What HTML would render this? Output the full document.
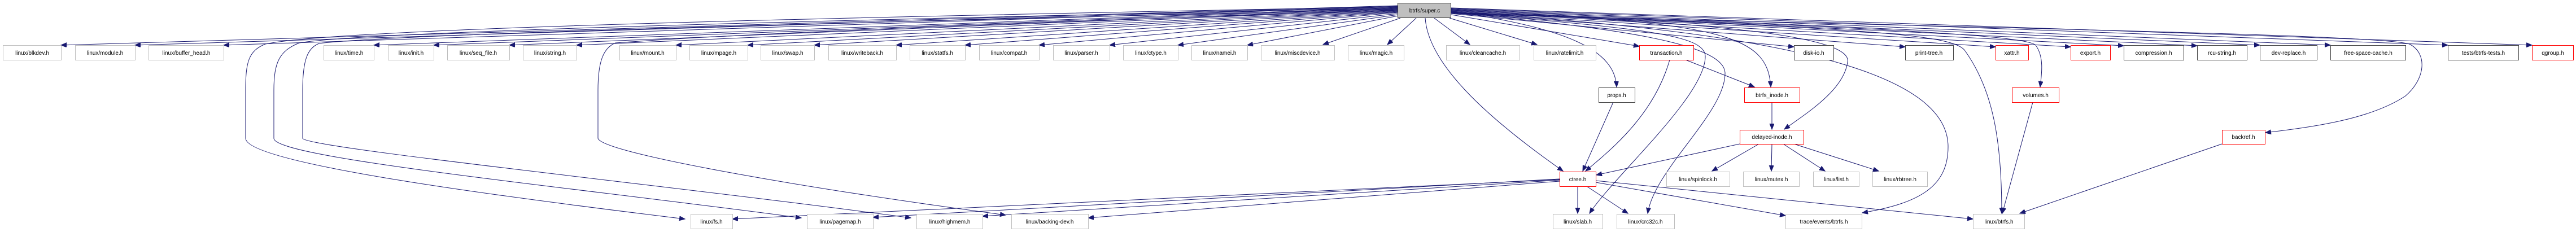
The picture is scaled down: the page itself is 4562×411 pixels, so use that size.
<!DOCTYPE html>
<html><head><meta charset="utf-8"><style>
html,body{margin:0;padding:0;background:#fff;}
svg{display:block;}
text{font-family:"Liberation Sans",Arial,sans-serif;font-size:10px;fill:#000;text-anchor:middle;}
.e{fill:none;stroke:#191970;stroke-width:1;marker-end:url(#ah);}
.g{fill:#fff;stroke:#bfbfbf;stroke-width:1;}
.b{fill:#fff;stroke:#404040;stroke-width:1;}
.r{fill:#fff;stroke:#ff0000;stroke-width:1;}
</style></head><body>
<svg width="4562" height="411" viewBox="0 0 4562 411" xmlns="http://www.w3.org/2000/svg">
<defs><marker id="ah" markerUnits="userSpaceOnUse" markerWidth="12" markerHeight="10" refX="10" refY="4" orient="auto"><path d="M0,0 L10,4 L0,8 z" fill="#191970" stroke="#191970"/></marker></defs>

<!-- edges super.c -> left row -->
<path class="e" d="M2476,10 L108,80"/>
<path class="e" d="M2476,11 L239,80"/>
<path class="e" d="M2476,12 L396,80"/>
<path class="e" d="M2476,13 L662,80"/>
<path class="e" d="M2476,14 L768,80"/>
<path class="e" d="M2476,15 L902,80"/>
<path class="e" d="M2476,16 L1021,80"/>
<path class="e" d="M2476,17 L1197,80"/>
<path class="e" d="M2476,18 L1324,80"/>
<path class="e" d="M2476,19 L1442,80"/>
<path class="e" d="M2476,20 L1587,80"/>
<path class="e" d="M2476,21 L1709,80"/>
<path class="e" d="M2476,22 L1840,80"/>
<path class="e" d="M2476,24 L1965,80"/>
<path class="e" d="M2476,26 L2086,80"/>
<path class="e" d="M2476,28 L2209,80"/>
<path class="e" d="M2480,32 L2343,79"/>
<path class="e" d="M2508,32 L2457,79"/>
<path class="e" d="M2540,32 L2603,79"/>
<path class="e" d="M2567,32 L2722,79"/>
<!-- super -> right row -->
<path class="e" d="M2570,26 L2903,82"/>
<path class="e" d="M2570,24 L3177,83"/>
<path class="e" d="M2570,22 L3374,83"/>
<path class="e" d="M2570,21 L3534,83"/>
<path class="e" d="M2570,20 L3667,83"/>
<path class="e" d="M2570,19 L3761,81"/>
<path class="e" d="M2570,18 L3891,81"/>
<path class="e" d="M2570,17 L4002,80"/>
<path class="e" d="M2570,16 L4127,80"/>
<path class="e" d="M2570,15 L4335,80"/>
<path class="e" d="M2570,14 L4484,80"/>
<!-- long curves to bottom left -->
<path class="e" d="M2476,12 C1500,30 600,50 470,78 C440,90 435,110 435,160 L435,245 C435,290 900,350 1213,388"/>
<path class="e" d="M2476,14 C1500,35 650,55 530,76 C495,90 485,110 485,160 L485,245 C485,280 1000,330 1419,386"/>
<path class="e" d="M2476,16 C1500,40 700,60 565,77 C545,85 536,105 536,160 L536,245 C540,262 1200,330 1613,386"/>
<path class="e" d="M2476,18 C1800,40 1300,60 1090,76 C1068,85 1059,110 1059,160 L1059,245 C1065,270 1400,330 1781,381"/>
<!-- ctree edges -->
<path class="e" d="M2762,318 L1297,388"/>
<path class="e" d="M2762,317 L1546,385"/>
<path class="e" d="M2762,319 L1740,383"/>
<path class="e" d="M2762,321 L1927,386"/>
<path class="e" d="M2794,330 L2794,378"/>
<path class="e" d="M2810,330 L2883,378"/>
<path class="e" d="M2826,323 L3162,382"/>
<path class="e" d="M2826,320 L3494,388"/>
<!-- other -->
<path class="e" d="M2524,32 C2530,120 2650,220 2768,303"/>
<path class="e" d="M2857,181 L2803,303"/>
<path class="e" d="M2957,106 C2930,200 2860,260 2808,303"/>
<path class="e" d="M3081,255 L2827,310"/>
<path class="e" d="M2570,20 C2780,50 2860,90 2863,154"/>
<path class="e" d="M2985,106 L3107,154"/>
<path class="e" d="M2570,18 C3050,40 3130,60 3136,154"/>
<path class="e" d="M3138,181 L3138,229"/>
<path class="e" d="M2570,22 C3100,40 3280,70 3272,110 C3265,160 3200,200 3160,229"/>
<path class="e" d="M3115,255 L3032,303"/>
<path class="e" d="M3138,255 L3137,303"/>
<path class="e" d="M3158,255 L3232,303"/>
<path class="e" d="M3177,255 L3327,303"/>
<path class="e" d="M2570,22 C2900,50 3020,60 3020,100 C3020,170 2860,310 2815,378"/>
<path class="e" d="M2570,23 C2950,55 3055,90 3055,130 C3055,200 2930,300 2918,378"/>
<path class="e" d="M2570,22 C3250,60 3450,150 3450,260 C3450,330 3400,360 3298,377"/>
<path class="e" d="M2570,22 C3300,50 3460,60 3480,90 C3530,160 3545,250 3545,378"/>
<path class="e" d="M2570,22 C3400,50 3590,65 3605,80 C3620,100 3616,130 3613,154"/>
<path class="e" d="M3600,181 L3546,378"/>
<path class="e" d="M3935,255 L3577,378"/>
<path class="e" d="M2570,24 C3500,50 4200,60 4267,78 C4300,95 4295,140 4260,170 C4200,210 4100,225 4012,235"/>

<!-- nodes -->
<rect x="2475.5" y="5.5" width="94" height="26" fill="#bfbfbf" stroke="#404040"/><text x="2523" y="22">btrfs/super.c</text>
<g>
<rect class="g" x="5.5" y="80.5" width="103" height="26"/><text x="57" y="97">linux/blkdev.h</text>
<rect class="g" x="133.5" y="80.5" width="106" height="26"/><text x="186" y="97">linux/module.h</text>
<rect class="g" x="263.5" y="80.5" width="133" height="26"/><text x="330" y="97">linux/buffer_head.h</text>
<rect class="g" x="573.5" y="80.5" width="89" height="26"/><text x="618" y="97">linux/time.h</text>
<rect class="g" x="687.5" y="80.5" width="81" height="26"/><text x="728" y="97">linux/init.h</text>
<rect class="g" x="792.5" y="80.5" width="110" height="26"/><text x="847" y="97">linux/seq_file.h</text>
<rect class="g" x="926.5" y="80.5" width="95" height="26"/><text x="974" y="97">linux/string.h</text>
<rect class="g" x="1097.5" y="80.5" width="100" height="26"/><text x="1147" y="97">linux/mount.h</text>
<rect class="g" x="1221.5" y="80.5" width="103" height="26"/><text x="1273" y="97">linux/mpage.h</text>
<rect class="g" x="1347.5" y="80.5" width="95" height="26"/><text x="1395" y="97">linux/swap.h</text>
<rect class="g" x="1467.5" y="80.5" width="120" height="26"/><text x="1527" y="97">linux/writeback.h</text>
<rect class="g" x="1611.5" y="80.5" width="98" height="26"/><text x="1660" y="97">linux/statfs.h</text>
<rect class="g" x="1734.5" y="80.5" width="106" height="26"/><text x="1787" y="97">linux/compat.h</text>
<rect class="g" x="1865.5" y="80.5" width="100" height="26"/><text x="1915" y="97">linux/parser.h</text>
<rect class="g" x="1989.5" y="80.5" width="97" height="26"/><text x="2038" y="97">linux/ctype.h</text>
<rect class="g" x="2110.5" y="80.5" width="99" height="26"/><text x="2160" y="97">linux/namei.h</text>
<rect class="g" x="2233.5" y="80.5" width="130" height="26"/><text x="2298" y="97">linux/miscdevice.h</text>
<rect class="g" x="2387.5" y="80.5" width="99" height="26"/><text x="2437" y="97">linux/magic.h</text>
<rect class="g" x="2561.5" y="80.5" width="130" height="26"/><text x="2626" y="97">linux/cleancache.h</text>
<rect class="g" x="2716.5" y="80.5" width="110" height="26"/><text x="2771" y="97">linux/ratelimit.h</text>
<rect class="r" x="2903.5" y="80.5" width="96" height="26"/><text x="2951" y="97">transaction.h</text>
<rect class="b" x="3177.5" y="80.5" width="70" height="26"/><text x="3212" y="97">disk-io.h</text>
<rect class="b" x="3374.5" y="80.5" width="85" height="26"/><text x="3416" y="97">print-tree.h</text>
<rect class="r" x="3534.5" y="80.5" width="58" height="26"/><text x="3563" y="97">xattr.h</text>
<rect class="r" x="3667.5" y="80.5" width="70" height="26"/><text x="3702" y="97">export.h</text>
<rect class="b" x="3761.5" y="80.5" width="106" height="26"/><text x="3814" y="97">compression.h</text>
<rect class="b" x="3891.5" y="80.5" width="88" height="26"/><text x="3935" y="97">rcu-string.h</text>
<rect class="b" x="4002.5" y="80.5" width="101" height="26"/><text x="4053" y="97">dev-replace.h</text>
<rect class="b" x="4127.5" y="80.5" width="133" height="26"/><text x="4194" y="97">free-space-cache.h</text>
<rect class="b" x="4335.5" y="80.5" width="125" height="26"/><text x="4398" y="97">tests/btrfs-tests.h</text>
<rect class="r" x="4484.5" y="80.5" width="73" height="26"/><text x="4521" y="97">qgroup.h</text>

<rect class="b" x="2831.5" y="155.5" width="64" height="26"/><text x="2863" y="172">props.h</text>
<rect class="r" x="3089.5" y="155.5" width="98" height="26"/><text x="3138" y="172">btrfs_inode.h</text>
<rect class="r" x="3563.5" y="155.5" width="83" height="26"/><text x="3605" y="172">volumes.h</text>

<rect class="r" x="3081.5" y="230.5" width="113" height="25"/><text x="3138" y="246">delayed-inode.h</text>
<rect class="r" x="3935.5" y="230.5" width="76" height="25"/><text x="3973" y="246">backref.h</text>

<rect class="r" x="2762.5" y="304.5" width="64" height="26"/><text x="2794" y="321">ctree.h</text>
<rect class="g" x="2951.5" y="304.5" width="112" height="26"/><text x="3007" y="321">linux/spinlock.h</text>
<rect class="g" x="3087.5" y="304.5" width="99" height="26"/><text x="3137" y="321">linux/mutex.h</text>
<rect class="g" x="3211.5" y="304.5" width="81" height="26"/><text x="3252" y="321">linux/list.h</text>
<rect class="g" x="3316.5" y="304.5" width="97" height="26"/><text x="3365" y="321">linux/rbtree.h</text>

<rect class="g" x="1223.5" y="379.5" width="74" height="26"/><text x="1260" y="396">linux/fs.h</text>
<rect class="g" x="1429.5" y="379.5" width="117" height="26"/><text x="1488" y="396">linux/pagemap.h</text>
<rect class="g" x="1623.5" y="379.5" width="117" height="26"/><text x="1682" y="396">linux/highmem.h</text>
<rect class="g" x="1791.5" y="379.5" width="136" height="26"/><text x="1859" y="396">linux/backing-dev.h</text>
<rect class="g" x="2750.5" y="379.5" width="88" height="26"/><text x="2794" y="396">linux/slab.h</text>
<rect class="g" x="2863.5" y="379.5" width="102" height="26"/><text x="2914" y="396">linux/crc32c.h</text>
<rect class="g" x="3162.5" y="379.5" width="135" height="26"/><text x="3230" y="396">trace/events/btrfs.h</text>
<rect class="g" x="3494.5" y="379.5" width="91" height="26"/><text x="3540" y="396">linux/btrfs.h</text>
</g>
</svg>
</body></html>
